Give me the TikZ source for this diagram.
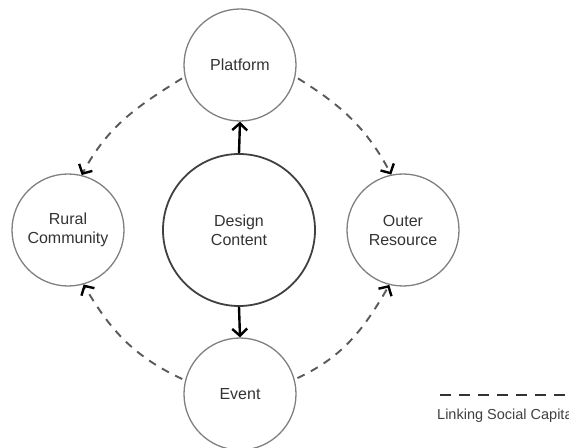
\documentclass[tikz,border=0pt]{standalone}
\usepackage{fontspec}
\setmainfont{Liberation Sans}
\usetikzlibrary{arrows.meta}
\begin{document}
\begin{tikzpicture}[x=1pt,y=1pt,
  label font/.style={font=\fontsize{16}{19}\selectfont, text=black!80},
  hub/.style={circle, draw=black!75, line width=1.8pt, minimum size=152pt,
    inner sep=0pt, align=center, label font},
  actor/.style={circle, draw=black!50, line width=1.3pt, minimum size=112pt,
    inner sep=0pt, align=center, label font},
  tip/.style={-{Straight Barb[black, length=7pt, width=15pt, line width=2.4pt]}},
  flow/.style={black, line width=2.4pt, tip},
  link/.style={black!65, line width=1.9pt, dash pattern=on 8pt off 7pt,
    tip, shorten <=3pt}
]
\clip (0,0) rectangle (569,447);

% nodes
\node[hub]   (design)   at (239,217) {Design\\Content};
\node[actor] (platform) at (240,382) {Platform};
\node[actor] (event)    at (240,53)  {Event};
\node[actor] (rural)    at (68,217)  {Rural\\Community};
\node[actor] (outer)    at (403,217) {Outer\\Resource};

% design content feeds the platform and the event
\draw[flow] (design.north) -- (platform.south);
\draw[flow] (design.south) -- (event.north);

% linking social capital
\draw[link] (platform.192) to[out=212, in=62]  (rural.76);
\draw[link] (platform.348) to[out=328, in=118] (outer.102);
\draw[link] (event.166)    to[out=155, in=300] (rural.286);
\draw[link] (event.15)     to[out=25,  in=240] (outer.256);

% legend
\coordinate (legA) at (440,52);
\coordinate (legB) at (580,52);
\draw[black!80, line width=2.6pt, dash pattern=on 11pt off 8pt] (legA) -- (legB);
\node[anchor=west, inner sep=0pt, font=\fontsize{14.5}{17}\selectfont, text=black!75]
  (legtext) at (437,31) {Linking Social Capital};
\end{tikzpicture}
\end{document}
